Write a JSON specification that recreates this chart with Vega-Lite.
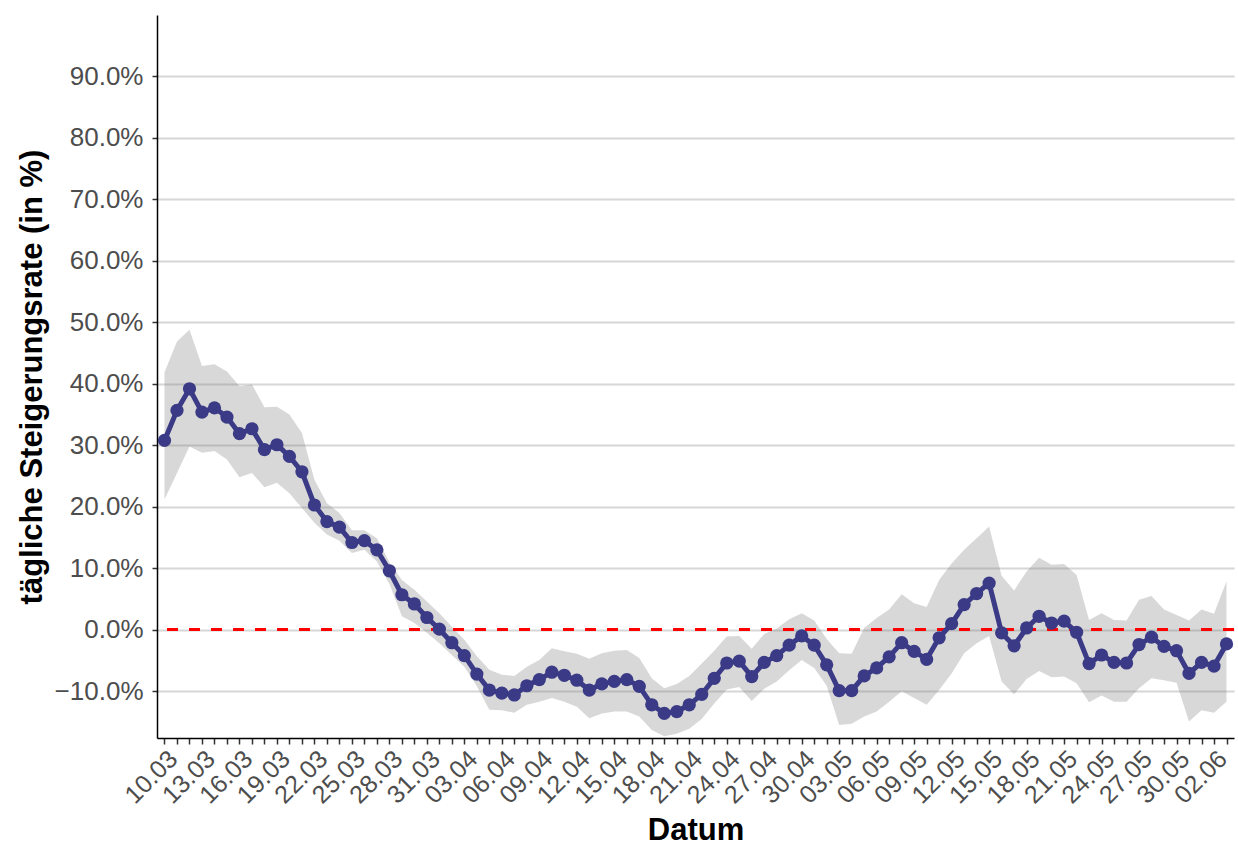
{
  "$schema": "https://vega.github.io/schema/vega-lite/v6.json",
  "width": 1077,
  "height": 723,
  "autosize": {"type": "none"},
  "padding": {"left": 157, "top": 15, "right": 4, "bottom": 108},
  "background": "white",
  "config": {
    "view": {"stroke": null},
    "font": "Liberation Sans"
  },
  "data": {
    "values": [
      {"datum": "2020-03-10", "rate": 30.8, "lo": 21.2, "hi": 41.9},
      {"datum": "2020-03-11", "rate": 35.7, "lo": 25.5, "hi": 46.9},
      {"datum": "2020-03-12", "rate": 39.2, "lo": 29.8, "hi": 48.8},
      {"datum": "2020-03-13", "rate": 35.4, "lo": 28.8, "hi": 42.9},
      {"datum": "2020-03-14", "rate": 36.1, "lo": 29.1, "hi": 43.2},
      {"datum": "2020-03-15", "rate": 34.6, "lo": 27.7, "hi": 42.0},
      {"datum": "2020-03-16", "rate": 31.9, "lo": 24.8, "hi": 39.6},
      {"datum": "2020-03-17", "rate": 32.7, "lo": 25.5, "hi": 39.9},
      {"datum": "2020-03-18", "rate": 29.3, "lo": 23.2, "hi": 36.2},
      {"datum": "2020-03-19", "rate": 30.1, "lo": 23.9, "hi": 36.3},
      {"datum": "2020-03-20", "rate": 28.2, "lo": 22.2, "hi": 35.0},
      {"datum": "2020-03-21", "rate": 25.7, "lo": 19.8, "hi": 32.0},
      {"datum": "2020-03-22", "rate": 20.3, "lo": 17.4, "hi": 24.4},
      {"datum": "2020-03-23", "rate": 17.6, "lo": 15.5, "hi": 20.6},
      {"datum": "2020-03-24", "rate": 16.7, "lo": 14.5, "hi": 19.0},
      {"datum": "2020-03-25", "rate": 14.2, "lo": 12.5, "hi": 16.2},
      {"datum": "2020-03-26", "rate": 14.5, "lo": 13.0, "hi": 16.2},
      {"datum": "2020-03-27", "rate": 13.0, "lo": 11.1, "hi": 14.9},
      {"datum": "2020-03-28", "rate": 9.6, "lo": 7.5, "hi": 11.0},
      {"datum": "2020-03-29", "rate": 5.7, "lo": 2.2, "hi": 8.1},
      {"datum": "2020-03-30", "rate": 4.2, "lo": 1.1, "hi": 6.5},
      {"datum": "2020-03-31", "rate": 2.0, "lo": -0.5, "hi": 4.6},
      {"datum": "2020-04-01", "rate": 0.1, "lo": -2.2, "hi": 2.7},
      {"datum": "2020-04-02", "rate": -2.1, "lo": -4.1, "hi": 0.5},
      {"datum": "2020-04-03", "rate": -4.2, "lo": -6.0, "hi": -1.6},
      {"datum": "2020-04-04", "rate": -7.2, "lo": -9.2, "hi": -4.3},
      {"datum": "2020-04-05", "rate": -9.8, "lo": -13.0, "hi": -6.5},
      {"datum": "2020-04-06", "rate": -10.3, "lo": -13.1, "hi": -7.3},
      {"datum": "2020-04-07", "rate": -10.6, "lo": -13.5, "hi": -7.5},
      {"datum": "2020-04-08", "rate": -9.1, "lo": -12.2, "hi": -6.0},
      {"datum": "2020-04-09", "rate": -8.1, "lo": -11.7, "hi": -4.9},
      {"datum": "2020-04-10", "rate": -6.9, "lo": -11.1, "hi": -3.0},
      {"datum": "2020-04-11", "rate": -7.4, "lo": -11.7, "hi": -3.5},
      {"datum": "2020-04-12", "rate": -8.2, "lo": -12.5, "hi": -3.9},
      {"datum": "2020-04-13", "rate": -9.8, "lo": -14.4, "hi": -4.7},
      {"datum": "2020-04-14", "rate": -8.8, "lo": -13.6, "hi": -3.8},
      {"datum": "2020-04-15", "rate": -8.4, "lo": -13.3, "hi": -3.4},
      {"datum": "2020-04-16", "rate": -8.1, "lo": -13.3, "hi": -3.3},
      {"datum": "2020-04-17", "rate": -9.2, "lo": -14.1, "hi": -4.6},
      {"datum": "2020-04-18", "rate": -12.2, "lo": -16.3, "hi": -7.9},
      {"datum": "2020-04-19", "rate": -13.6, "lo": -17.3, "hi": -9.5},
      {"datum": "2020-04-20", "rate": -13.3, "lo": -16.9, "hi": -8.8},
      {"datum": "2020-04-21", "rate": -12.2, "lo": -16.1, "hi": -7.5},
      {"datum": "2020-04-22", "rate": -10.5, "lo": -14.5, "hi": -5.5},
      {"datum": "2020-04-23", "rate": -7.9, "lo": -12.0, "hi": -3.4},
      {"datum": "2020-04-24", "rate": -5.4, "lo": -9.7, "hi": -1.1},
      {"datum": "2020-04-25", "rate": -5.1, "lo": -9.3, "hi": -1.0},
      {"datum": "2020-04-26", "rate": -7.6, "lo": -11.6, "hi": -3.1},
      {"datum": "2020-04-27", "rate": -5.3, "lo": -9.6, "hi": -0.7},
      {"datum": "2020-04-28", "rate": -4.2, "lo": -8.4, "hi": 0.2},
      {"datum": "2020-04-29", "rate": -2.5, "lo": -6.6, "hi": 1.7},
      {"datum": "2020-04-30", "rate": -1.0, "lo": -4.9, "hi": 2.7},
      {"datum": "2020-05-01", "rate": -2.5, "lo": -6.2, "hi": 1.5},
      {"datum": "2020-05-02", "rate": -5.7, "lo": -9.1, "hi": -1.5},
      {"datum": "2020-05-03", "rate": -9.9, "lo": -15.5, "hi": -3.8},
      {"datum": "2020-05-04", "rate": -9.9, "lo": -15.3, "hi": -3.9},
      {"datum": "2020-05-05", "rate": -7.5, "lo": -14.1, "hi": 0.3},
      {"datum": "2020-05-06", "rate": -6.2, "lo": -13.3, "hi": 1.9},
      {"datum": "2020-05-07", "rate": -4.4, "lo": -11.7, "hi": 3.3},
      {"datum": "2020-05-08", "rate": -2.1, "lo": -10.0, "hi": 5.8},
      {"datum": "2020-05-09", "rate": -3.5, "lo": -11.1, "hi": 4.3},
      {"datum": "2020-05-10", "rate": -4.8, "lo": -12.2, "hi": 3.7},
      {"datum": "2020-05-11", "rate": -1.3, "lo": -9.8, "hi": 8.1},
      {"datum": "2020-05-12", "rate": 1.0, "lo": -7.1, "hi": 10.8},
      {"datum": "2020-05-13", "rate": 4.1, "lo": -3.8, "hi": 13.0},
      {"datum": "2020-05-14", "rate": 5.9, "lo": -2.2, "hi": 14.9},
      {"datum": "2020-05-15", "rate": 7.6, "lo": -1.0, "hi": 16.8},
      {"datum": "2020-05-16", "rate": -0.5, "lo": -8.4, "hi": 8.8},
      {"datum": "2020-05-17", "rate": -2.6, "lo": -10.5, "hi": 6.4},
      {"datum": "2020-05-18", "rate": 0.3, "lo": -8.0, "hi": 9.5},
      {"datum": "2020-05-19", "rate": 2.2, "lo": -6.7, "hi": 11.7},
      {"datum": "2020-05-20", "rate": 1.1, "lo": -7.7, "hi": 10.6},
      {"datum": "2020-05-21", "rate": 1.4, "lo": -7.6, "hi": 10.7},
      {"datum": "2020-05-22", "rate": -0.4, "lo": -8.7, "hi": 8.9},
      {"datum": "2020-05-23", "rate": -5.5, "lo": -11.8, "hi": 1.6},
      {"datum": "2020-05-24", "rate": -4.1, "lo": -10.7, "hi": 2.7},
      {"datum": "2020-05-25", "rate": -5.3, "lo": -11.7, "hi": 1.6},
      {"datum": "2020-05-26", "rate": -5.4, "lo": -11.7, "hi": 1.5},
      {"datum": "2020-05-27", "rate": -2.4, "lo": -9.5, "hi": 4.9},
      {"datum": "2020-05-28", "rate": -1.2, "lo": -7.9, "hi": 5.5},
      {"datum": "2020-05-29", "rate": -2.7, "lo": -8.2, "hi": 3.3},
      {"datum": "2020-05-30", "rate": -3.4, "lo": -8.6, "hi": 2.4},
      {"datum": "2020-05-31", "rate": -7.1, "lo": -14.9, "hi": 1.5},
      {"datum": "2020-06-01", "rate": -5.3, "lo": -13.1, "hi": 3.3},
      {"datum": "2020-06-02", "rate": -5.9, "lo": -13.5, "hi": 2.6},
      {"datum": "2020-06-03", "rate": -2.3, "lo": -11.7, "hi": 7.9}
    ]
  },
  "encoding": {
    "x": {
      "field": "datum",
      "type": "temporal",
      "scale": {
        "type": "utc",
        "domain": [
          {"year": 2020, "month": 3, "date": 9, "hours": 9, "minutes": 36, "utc": true},
          {"year": 2020, "month": 6, "date": 3, "hours": 14, "minutes": 24, "utc": true}
        ],
        "nice": false
      },
      "axis": {
        "title": "Datum",
        "titleFont": "Liberation Sans",
        "titleFontSize": 31,
        "titleFontWeight": "bold",
        "titleColor": "black",
        "titlePadding": 8,
        "tickCount": {"interval": "day", "step": 1},
        "labelExpr": "(round((datum.value - utc(2020,2,10)) / 86400000) % 3 == 0) ? utcFormat(datum.value, '%d.%m') : ''",
        "labelAngle": -45,
        "labelAlign": "right",
        "labelBaseline": "top",
        "labelPadding": 2,
        "labelDx": -10,
        "labelOverlap": false,
        "labelFlush": false,
        "labelBound": false,
        "labelFont": "Liberation Sans",
        "labelFontSize": 25,
        "labelColor": "#4d4d4d",
        "domainColor": "black",
        "domainWidth": 1.5,
        "tickColor": "#333333",
        "tickWidth": 1.5,
        "tickSize": 6,
        "grid": false
      }
    }
  },
  "layer": [
    {
      "mark": {"type": "area", "color": "#7f7f7f", "opacity": 0.3},
      "encoding": {
        "y": {
          "field": "lo",
          "type": "quantitative",
          "scale": {"domain": [-17.6, 100], "nice": false, "zero": false},
          "axis": {
            "title": "tägliche Steigerungsrate (in %)",
            "titleFont": "Liberation Sans",
            "titleFontSize": 31,
            "titleFontWeight": "bold",
            "titleColor": "black",
            "titlePadding": 6,
            "values": [-10, 0, 10, 20, 30, 40, 50, 60, 70, 80, 90],
            "labelExpr": "format(datum.value / 100, '.1%')",
            "labelFont": "Liberation Sans",
            "labelFontSize": 26,
            "labelColor": "#4d4d4d",
            "labelPadding": 9,
            "domainColor": "black",
            "domainWidth": 1.5,
            "tickColor": "#333333",
            "tickWidth": 1.5,
            "tickSize": 5,
            "grid": true,
            "gridColor": "#d6d6d6",
            "gridWidth": 2
          }
        },
        "y2": {"field": "hi"}
      }
    },
    {
      "mark": {"type": "rule", "color": "red", "strokeWidth": 2.5, "strokeDash": [11, 11]},
      "encoding": {"y": {"datum": 0, "type": "quantitative"}, "x": null}
    },
    {
      "mark": {"type": "line", "color": "#3a3a86", "strokeWidth": 5},
      "encoding": {"y": {"field": "rate", "type": "quantitative"}}
    },
    {
      "mark": {"type": "point", "filled": true, "color": "#3a3a86", "opacity": 1, "size": 175},
      "encoding": {"y": {"field": "rate", "type": "quantitative"}}
    }
  ]
}
